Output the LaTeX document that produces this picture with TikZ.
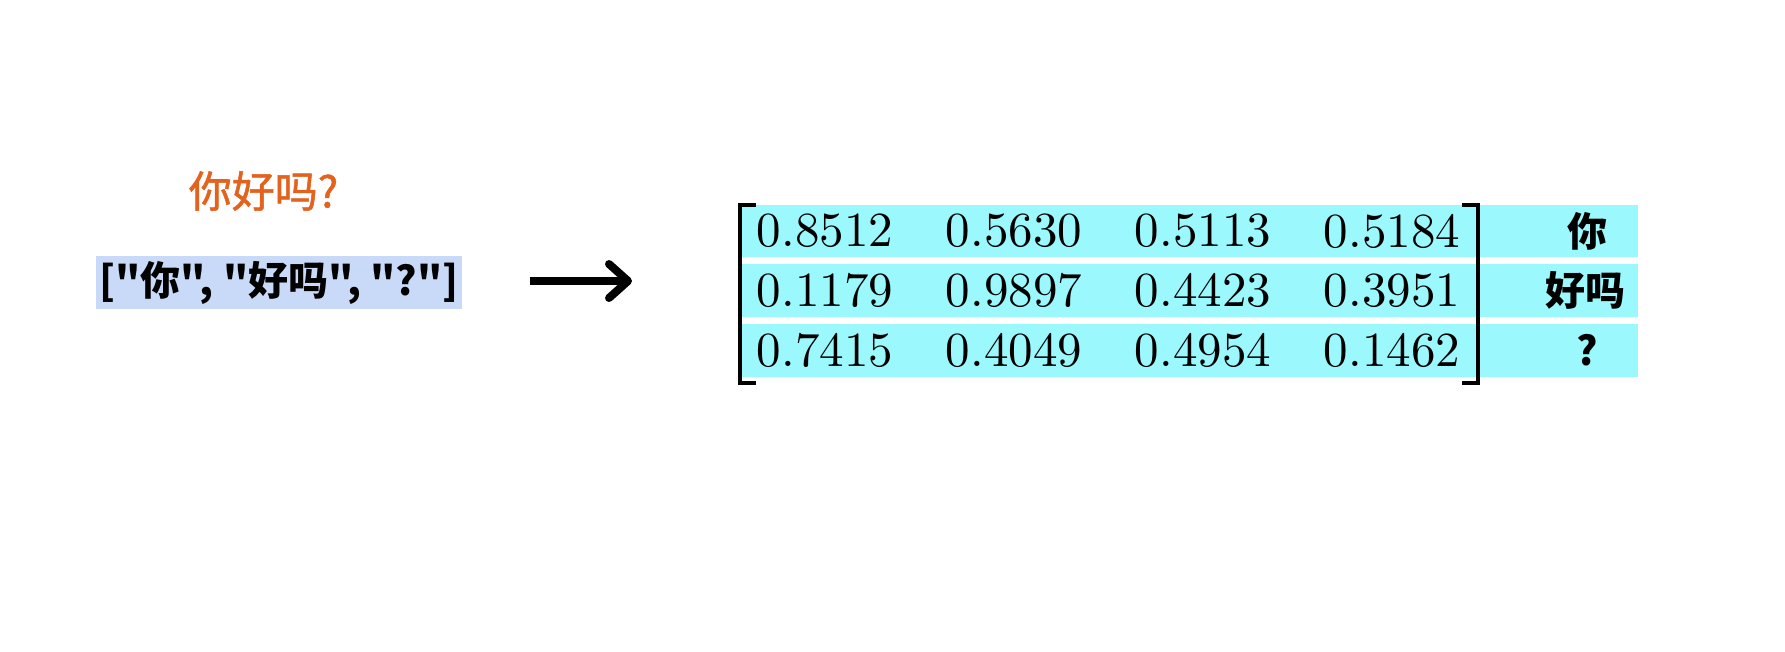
\documentclass[tikz,border=0pt]{standalone}
\usepackage{fontspec}
\usepackage{graphicx}
\newfontfamily\cjk[Ligatures=TeXOff]{Noto Sans CJK SC}
\newfontfamily\cjkmed[Ligatures=TeXOff,FakeBold=1.2]{Noto Sans CJK SC}
\usetikzlibrary{arrows.meta}
\definecolor{orng}{RGB}{226,98,30}
\definecolor{lblue}{RGB}{201,218,248}
\definecolor{cyanband}{RGB}{155,248,253}
\newcommand{\bignum}[1]{\scalebox{4.9}{\fontsize{10}{12}\selectfont #1}}
\begin{document}
\begin{tikzpicture}[x=1pt,y=-1pt,
  num/.style={inner sep=0pt},
  lab/.style={font=\cjk\bfseries\fontsize{40}{44}\selectfont, inner sep=0pt},
  band/.style={fill=cyanband, draw=none, inner sep=0pt, minimum width=898pt, minimum height=52.5pt},
  brk/.style={line width=3.8pt, line join=miter}]
\useasboundingbox (0,0) rectangle (1785,651);
% left side
\node[font=\cjkmed\fontsize{43}{46}\selectfont, text=orng, inner sep=0pt] (title) at (263.5,191) {你好吗?};
\node[fill=lblue, minimum width=366pt, minimum height=53pt, inner sep=0pt,
      font=\cjk\bfseries\fontsize{40}{44}\selectfont] (list) at (279,282.5) {["你", "好吗", "?"]};
% arrow
\coordinate (a0) at (530,281);
\coordinate (a1) at (632,281);
\draw[line width=8pt, -{Straight Barb[length=19pt, width=34pt, round]}] (a0) -- (a1);
% bands
\node[band] (r1) at (1189,231) {};
\node[band] (r2) at (1189,290.5) {};
\node[band] (r3) at (1189,350.5) {};
% numbers
\node[num] (m11) at (825,231) {\bignum{0.8512}};
\node[num] (m12) at (1014,231) {\bignum{0.5630}};
\node[num] (m13) at (1203,231) {\bignum{0.5113}};
\node[num] (m14) at (1392,231) {\bignum{0.5184}};
\node[num] (m21) at (825,290.5) {\bignum{0.1179}};
\node[num] (m22) at (1014,290.5) {\bignum{0.9897}};
\node[num] (m23) at (1203,290.5) {\bignum{0.4423}};
\node[num] (m24) at (1392,290.5) {\bignum{0.3951}};
\node[num] (m31) at (825,350.5) {\bignum{0.7415}};
\node[num] (m32) at (1014,350.5) {\bignum{0.4049}};
\node[num] (m33) at (1203,350.5) {\bignum{0.4954}};
\node[num] (m34) at (1392,350.5) {\bignum{0.1462}};
% brackets
\draw[brk] (756,205) -- (740,205) -- (740,383) -- (756,383);
\draw[brk] (1462,205) -- (1478,205) -- (1478,383) -- (1462,383);
% labels
\node[lab] (l1) at (1587,231) {你};
\node[lab] (l2) at (1585,290.5) {好吗};
\node[lab] (l3) at (1587,350.5) {?};
\end{tikzpicture}
\end{document}
